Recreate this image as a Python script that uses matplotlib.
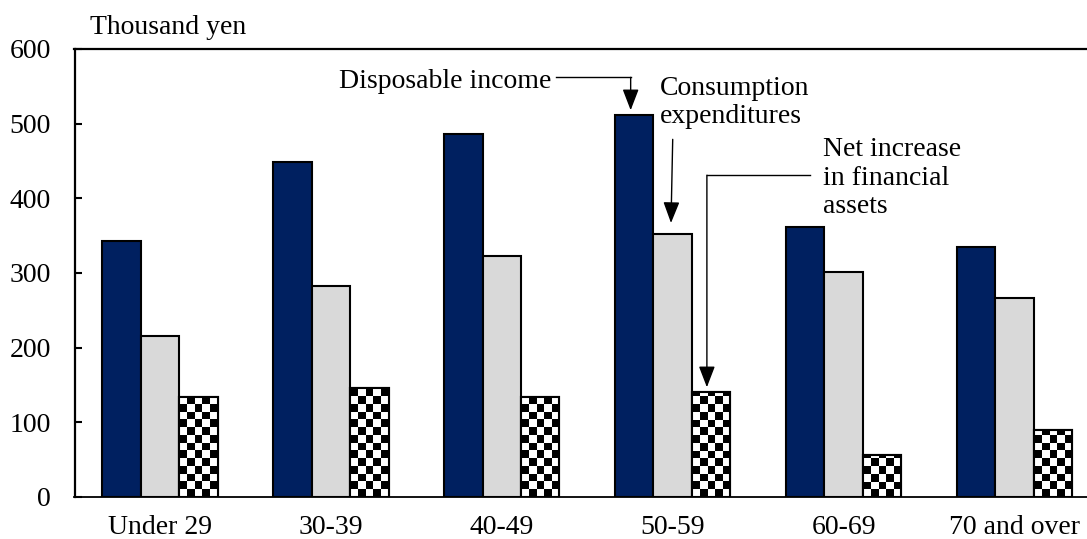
import numpy as np
import matplotlib
matplotlib.use("Agg")
import matplotlib.pyplot as plt

plt.rcParams['font.family'] = ['Liberation Serif', 'DejaVu Serif']

categories = ["Under 29", "30-39", "40-49", "50-59", "60-69", "70 and over"]
disposable_income = [343, 448, 486, 511, 361, 335]
consumption = [215, 282, 323, 352, 302, 266]
net_financial = [134, 146, 134, 141, 56, 90]

FS = 20

fig = plt.figure(figsize=(10.87, 5.39), dpi=100)
# axes runs a bit past the right edge, like the original
ax = fig.add_axes([74.5 / 1087, 1 - 497 / 539, 1025.5 / 1087, 448 / 539])

x = np.arange(len(categories))
w = 0.225

ax.bar(x - w, disposable_income, w, color='#002060', edgecolor='black', linewidth=1.5, zorder=2)
ax.bar(x, consumption, w, color='#D9D9D9', edgecolor='black', linewidth=1.5, zorder=2)
net_bars = ax.bar(x + w, net_financial, w, color='white', edgecolor='black', linewidth=1.5, zorder=2)

# checkerboard fill for the net increase bars
ncell = 5
cell_x = w / ncell
cell_y = 10.3
for b in net_bars:
    x0 = b.get_x()
    h = b.get_height()
    ny = int(np.ceil(h / cell_y))
    pat = (np.add.outer(np.arange(ny), np.arange(ncell)) % 2).astype(float)
    im = ax.imshow(pat[::-1], cmap='gray_r', extent=(x0, x0 + ncell * cell_x, 0, ny * cell_y),
                   aspect='auto', interpolation='nearest', zorder=2.5, vmin=0, vmax=1)
    im.set_clip_path(b)
    ax.add_patch(plt.Rectangle((x0, 0), w, h, fill=False, edgecolor='black', linewidth=1.5, zorder=4))

ax.set_xlim(-0.5, 5.5)
ax.set_ylim(0, 600)
ax.set_yticks([0, 100, 200, 300, 400, 500, 600])
ax.set_xticks(x)
ax.set_xticklabels(categories)
ax.tick_params(axis='y', direction='in', length=5, width=1.5, labelsize=FS, pad=17)
ax.tick_params(axis='x', length=0, labelsize=FS, pad=13)
ax.spines['right'].set_visible(False)
for s in ['left', 'top']:
    ax.spines[s].set_linewidth(1.6)
ax.spines['bottom'].set_linewidth(1.3)

fig.text(90 / 1087, 1 - 28 / 539, "Thousand yen", fontsize=FS, va='center', ha='left')

arrow = dict(arrowstyle='-|>,head_length=1.3,head_width=0.5', color='black', lw=1.0, shrinkA=0, shrinkB=0)

# Disposable income
ax.text(2.293, 556, "Disposable income", fontsize=FS, ha='right', va='center')
ax.plot([2.32, 2.754], [562, 562], color='black', lw=1.0)
ax.annotate("", xy=(2.754, 518), xytext=(2.754, 562), arrowprops=arrow)

# Consumption expenditures
ax.text(2.926, 528, "Consumption\nexpenditures", fontsize=FS, ha='left', va='center', linespacing=1.15)
ax.annotate("", xy=(2.99, 367), xytext=(3.0, 479), arrowprops=arrow)

# Net increase in financial assets
ax.text(3.877, 427, "Net increase\nin financial\nassets", fontsize=FS, ha='left', va='center', linespacing=1.18)
ax.plot([3.2, 3.803], [431, 431], color='black', lw=1.0)
ax.annotate("", xy=(3.2, 147), xytext=(3.2, 431), arrowprops=arrow)

fig.savefig("out.png", dpi=100)
